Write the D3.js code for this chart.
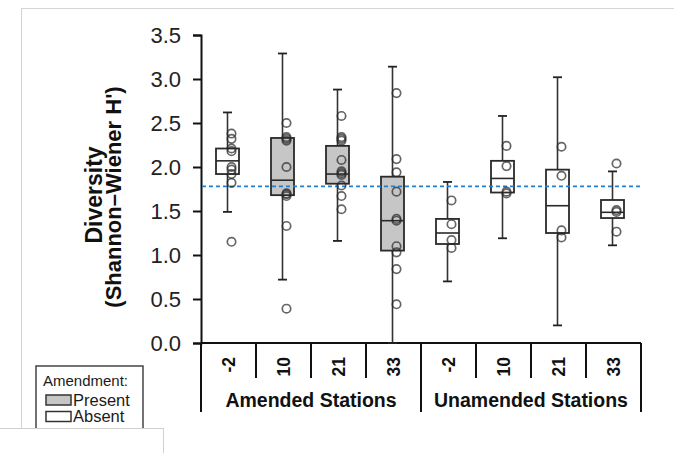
<!DOCTYPE html>
<html>
<head>
<meta charset="utf-8">
<script src="https://cdn.jsdelivr.net/npm/d3@7"></script>
<style>
  html, body { margin: 0; padding: 0; background: #fff; }
  svg { display: block; }
  text { font-family: "Liberation Sans", Arial, sans-serif; }
</style>
</head>
<body>
<svg id="chart" width="674" height="453"></svg>
<script>
// ---- data ----
const categories = ["-2", "10", "21", "33", "-2", "10", "21", "33"];
const groups = ["Amended Stations", "Unamended Stations"];
const groupOf = [0, 0, 0, 0, 1, 1, 1, 1];
const amendment = ["Absent", "Present", "Present", "Present", "Absent", "Absent", "Absent", "Absent"];
const whiskerLow  = [1.49, 0.72, 1.16, 0.00, 0.70, 1.19, 0.20, 1.11];
const q1          = [1.92, 1.68, 1.81, 1.05, 1.125, 1.71, 1.25, 1.42];
const median      = [2.07, 1.85, 1.92, 1.39, 1.25, 1.87, 1.56, 1.485];
const q3          = [2.21, 2.33, 2.24, 1.89, 1.41, 2.07, 1.97, 1.625];
const whiskerHigh = [2.62, 3.29, 2.88, 3.14, 1.83, 2.58, 3.02, 1.95];
const points = [
  [2.38, 2.32, 2.21, 2.18, 2.00, 1.97, 1.92, 1.82, 1.15],
  [2.50, 2.34, 2.32, 2.30, 2.00, 1.70, 1.69, 1.67, 1.33, 0.39],
  [2.58, 2.34, 2.32, 2.30, 2.08, 1.95, 1.93, 1.91, 1.79, 1.67, 1.52],
  [2.84, 2.09, 1.94, 1.72, 1.41, 1.39, 1.10, 1.03, 0.84, 0.44],
  [1.62, 1.35, 1.17, 1.08],
  [2.24, 2.01, 1.72, 1.70],
  [2.23, 1.90, 1.28, 1.20],
  [2.04, 1.51, 1.49, 1.265]
];
const referenceLine = 1.78;
const yTickValues = [0, 0.5, 1.0, 1.5, 2.0, 2.5, 3.0, 3.5];
const legendTitle = "Amendment:";
const legendItems = ["Present", "Absent"];
const yTitle1 = "Diversity";
const yTitle2 = "(Shannon\u2013Wiener H')";

// ---- layout ----
const svg = d3.select("#chart");
const plotLeft = 201, plotRight = 641, plotTop = 35, plotBottom = 343;
const fillFor = { Present: "#c6c6c6", Absent: "#ffffff" };

const y = d3.scaleLinear().domain([0, 3.5]).range([plotBottom, plotTop]);
const x = d3.scaleBand().domain(d3.range(categories.length)).range([plotLeft, plotRight]).padding(0);

// page frame
svg.append("line").attr("x1", 21).attr("x2", 674).attr("y1", 8.5).attr("y2", 8.5)
  .attr("stroke", "#d4d4d4").attr("stroke-width", 1);
svg.append("line").attr("x1", 21.5).attr("x2", 21.5).attr("y1", 8).attr("y2", 428)
  .attr("stroke", "#d4d4d4").attr("stroke-width", 1);

// y axis
const yAxis = d3.axisLeft(y).tickValues(yTickValues).tickFormat(d3.format(".1f"))
  .tickSize(8).tickSizeOuter(8).tickPadding(12);
const gy = svg.append("g").attr("transform", `translate(${plotLeft},0)`).call(yAxis);
gy.selectAll("path, line").attr("stroke", "#111").attr("stroke-width", 2);
gy.selectAll("text").attr("font-size", 22).attr("fill", "#222")
  .attr("font-family", "'Liberation Sans', Arial, sans-serif");

// y title
svg.append("text").attr("transform", "translate(102,195) rotate(-90)")
  .attr("text-anchor", "middle").attr("font-weight", "bold").attr("font-size", 23)
  .attr("fill", "#111").text(yTitle1);
svg.append("text").attr("transform", "translate(121,197) rotate(-90)")
  .attr("text-anchor", "middle").attr("font-weight", "bold").attr("font-size", 22)
  .attr("fill", "#111").text(yTitle2);

// x axis line + separators
svg.append("line").attr("x1", plotLeft).attr("x2", plotRight).attr("y1", plotBottom).attr("y2", plotBottom)
  .attr("stroke", "#111").attr("stroke-width", 2);
const boundaries = d3.range(categories.length + 1);
const bx = i => i < categories.length ? x(i) : x(categories.length - 1) + x.bandwidth();
svg.selectAll("line.sep").data(boundaries).join("line").attr("class", "sep")
  .attr("x1", bx).attr("x2", bx)
  .attr("y1", plotBottom)
  .attr("y2", i => (i === 0 || i === categories.length || groupOf[i] !== groupOf[i - 1]) ? 412 : 378)
  .attr("stroke", "#111").attr("stroke-width", 2);

// category labels
svg.selectAll("text.cat").data(categories).join("text").attr("class", "cat")
  .attr("transform", (d, i) => `translate(${x(i) + x.bandwidth() / 2 + 6},357) rotate(-90)`)
  .attr("text-anchor", "end").attr("font-weight", "bold").attr("font-size", 17.5)
  .attr("fill", "#111").text(d => d);

// group labels
groups.forEach((g, gi) => {
  const idx = d3.range(categories.length).filter(i => groupOf[i] === gi);
  const x0 = x(idx[0]), x1 = x(idx[idx.length - 1]) + x.bandwidth();
  svg.append("text").attr("x", (x0 + x1) / 2).attr("y", 407)
    .attr("text-anchor", "middle").attr("font-weight", "bold").attr("font-size", 19.5)
    .attr("fill", "#111").text(g);
});

// boxes
const boxW = 23, capW = 9;
const cx = i => x(i) + x.bandwidth() / 2 - 1;
const boxes = svg.append("g");
categories.forEach((c, i) => {
  const g = boxes.append("g");
  g.append("line").attr("x1", cx(i)).attr("x2", cx(i))
    .attr("y1", y(whiskerLow[i])).attr("y2", y(whiskerHigh[i]))
    .attr("stroke", "#333").attr("stroke-width", 1.6);
  [whiskerLow[i], whiskerHigh[i]].forEach(v => {
    g.append("line").attr("x1", cx(i) - capW / 2).attr("x2", cx(i) + capW / 2)
      .attr("y1", y(v)).attr("y2", y(v)).attr("stroke", "#222").attr("stroke-width", 1.8);
  });
  g.append("rect").attr("x", cx(i) - boxW / 2).attr("width", boxW)
    .attr("y", y(q3[i])).attr("height", y(q1[i]) - y(q3[i]))
    .attr("fill", fillFor[amendment[i]]).attr("stroke", "#2a2a2a").attr("stroke-width", 1.8);
  g.append("line").attr("x1", cx(i) - boxW / 2).attr("x2", cx(i) + boxW / 2)
    .attr("y1", y(median[i])).attr("y2", y(median[i]))
    .attr("stroke", "#2a2a2a").attr("stroke-width", 1.6);
});

// reference line
svg.append("line").attr("x1", plotLeft + 1).attr("x2", plotRight)
  .attr("y1", y(referenceLine)).attr("y2", y(referenceLine))
  .attr("stroke", "#1f7fd6").attr("stroke-width", 1.6).attr("stroke-dasharray", "4,3");

// points
categories.forEach((c, i) => {
  svg.append("g").selectAll("circle").data(points[i]).join("circle")
    .attr("cx", cx(i) + 4).attr("cy", d => y(d)).attr("r", 4.2)
    .attr("fill", "none").attr("stroke", "#2a2a2a").attr("stroke-opacity", 0.72)
    .attr("stroke-width", 1.7);
});

// legend
const lg = svg.append("g");
lg.append("rect").attr("x", 36).attr("y", 366).attr("width", 107).attr("height", 80)
  .attr("fill", "#fff").attr("stroke", "#444").attr("stroke-width", 1.5);
lg.append("text").attr("x", 43).attr("y", 386).attr("font-size", 15).attr("fill", "#1a1a1a")
  .text(legendTitle);
legendItems.forEach((item, k) => {
  const yy = 395 + k * 16.5;
  lg.append("rect").attr("x", 46).attr("y", yy).attr("width", 25).attr("height", 10)
    .attr("fill", fillFor[item]).attr("stroke", "#333").attr("stroke-width", 1.5);
  lg.append("text").attr("x", 73).attr("y", yy + 10.5).attr("font-size", 16.5)
    .attr("fill", "#1a1a1a").text(item);
});

// bottom-left white panel
svg.append("rect").attr("x", -2).attr("y", 428.5).attr("width", 165.5).attr("height", 40)
  .attr("fill", "#fff").attr("stroke", "#d0d0d0").attr("stroke-width", 1);
</script>
</body>
</html>
